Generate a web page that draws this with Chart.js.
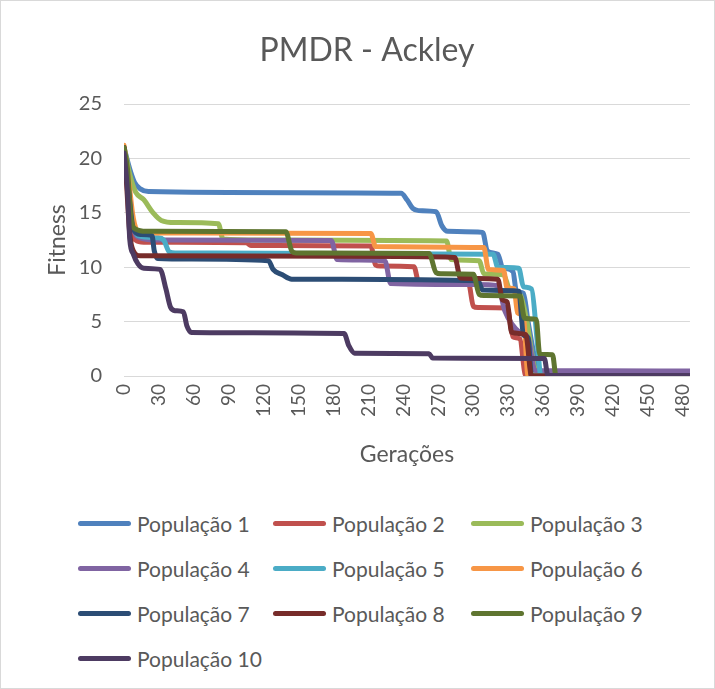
<!DOCTYPE html>
<html>
<head>
<meta charset="utf-8">
<script src="https://cdn.jsdelivr.net/npm/chart.js@4"></script>
<style>
  html, body { margin: 0; padding: 0; background: #fff; }
  #wrap {
    position: relative;
    width: 715px;
    height: 689px;
    box-sizing: border-box;
    border: 1px solid #d9d9d9;
    font-family: Lato, "Open Sans", sans-serif;
  }
  #chart { position: absolute; left: 0; top: 0; }
  .leg-item {
    position: absolute;
    height: 24px;
    display: flex;
    align-items: center;
    color: #595959;
    font-size: 21px;
    white-space: nowrap;
  }
  .leg-line {
    width: 53px;
    height: 5px;
    border-radius: 3px;
    margin-right: 6px;
  }
</style>
</head>
<body>
<div id="wrap">
  <canvas id="chart" width="713" height="470"></canvas>
  <div id="legend"></div>
</div>
<script>
// Chart data: [generation, fitness] at each change
const pop1 = [[0,21],[5,19],[9,17.8],[14,17.2],[21,16.95],[146,16.85],[238,16.8],[243,16.2],[248,15.4],[253,15.2],[268,15.1],[273,13.8],[278,13.3],[308,13.2],[312,11.5],[321,11.2],[325,10],[334,9.6],[337,7.8],[343,7.6],[347,5],[352,2],[356,0],[486,0]];
const pop2 = [[0,21],[3,18],[6,13.5],[10,12.5],[17,12.3],[105,12.25],[109,12.0],[212,11.95],[216,10.2],[220,10.1],[249,10.05],[253,8.6],[257,8.5],[296,8.45],[300,6.4],[304,6.3],[329,6.25],[334,3.6],[340,3.4],[345,0],[486,0]];
const pop3 = [[0,21.1],[5,18.5],[10,16.9],[17,16.2],[25,15],[32,14.3],[44,14.1],[81,14.0],[85,12.6],[117,12.5],[277,12.4],[281,10.7],[305,10.6],[309,9.4],[326,9.3],[331,8],[340,7.5],[346,5],[352,1],[356,0],[486,0]];
const pop4 = [[0,21],[4,17],[8,13.5],[14,12.7],[29,12.5],[178,12.45],[183,10.7],[224,10.6],[229,8.5],[302,8.4],[321,8.3],[327,6],[340,4],[347,3.5],[353,0.5],[486,0.45]];
const pop5 = [[0,21],[4,17],[8,14],[12,12.9],[29,12.7],[34,12.5],[39,11.4],[44,11.3],[317,11.2],[321,10],[339,9.9],[343,8.2],[350,8.0],[355,3],[358,0],[486,0]];
const pop6 = [[0,21.2],[4,18],[8,14.5],[12,13.3],[29,13.15],[212,13.1],[216,11.9],[309,11.8],[313,9.8],[326,9.7],[329,8.1],[335,8.0],[338,5.8],[343,5.5],[347,0],[486,0]];
const pop7 = [[0,21],[4,17],[8,13.5],[14,13.0],[24,12.9],[26,11.5],[29,10.8],[58,10.75],[124,10.6],[128,9.8],[136,9.3],[144,8.9],[304,8.75],[308,7.9],[339,7.8],[343,3.8],[347,3.5],[350,0],[486,0]];
const pop8 = [[0,21],[2,18],[5,13],[8,11.5],[14,11.05],[195,11.0],[284,10.9],[289,9.0],[321,8.9],[325,7.0],[329,6.8],[333,4.0],[345,3.8],[350,0],[486,0]];
const pop9 = [[0,21],[3,19],[6,14.5],[10,13.5],[19,13.3],[139,13.25],[144,11.5],[148,11.3],[262,11.25],[268,9.5],[272,9.4],[300,9.35],[305,7.5],[309,7.4],[340,7.35],[344,5.3],[354,5.2],[357,2.0],[368,1.95],[371,0],[486,0]];
const pop10 = [[0,20.5],[3,17],[5,12.5],[8,11.2],[12,10.3],[17,9.9],[31,9.8],[36,8],[40,6.3],[44,6.0],[51,5.9],[54,4.6],[58,4.0],[189,3.9],[193,2.8],[198,2.1],[262,2.05],[265,1.65],[361,1.6],[364,0.05],[486,0.05]];

const seriesNames = ['População 1','População 2','População 3','População 4','População 5',
                     'População 6','População 7','População 8','População 9','População 10'];
const seriesData = [pop1, pop2, pop3, pop4, pop5, pop6, pop7, pop8, pop9, pop10];
const seriesColors = ['#4F81BD','#C0504D','#9BBB59','#8064A2','#4BACC6',
                      '#F79646','#2C4D75','#772C2A','#5F7530','#4D3B62'];
const xTickLabels = [0,30,60,90,120,150,180,210,240,270,300,330,360,390,420,450,480];
const yTickLabels = [0,5,10,15,20,25];

const textColor = '#595959';
const fontFamily = 'Lato, "Open Sans", sans-serif';

const datasets = seriesData.map((pts, i) => ({
    label: seriesNames[i],
    data: pts.map(p => ({ x: p[0], y: p[1] })),
    borderColor: seriesColors[i],
    backgroundColor: seriesColors[i],
    borderWidth: 5,
    pointRadius: 0,
    cubicInterpolationMode: 'monotone',
    borderJoinStyle: 'round',
    borderCapStyle: 'round',
    order: seriesData.length - i  // later series on top, like Excel
}));

const ctx = document.getElementById('chart').getContext('2d');
const chart = new Chart(ctx, {
    type: 'line',
    data: { datasets },
    options: {
        responsive: false,
        animation: false,
        layout: { padding: { left: 39, right: 20, top: 0, bottom: 0 } },
        plugins: {
            legend: { display: false },
            tooltip: { enabled: false },
            title: {
                display: true,
                text: 'PMDR - Ackley',
                color: textColor,
                font: { family: fontFamily, size: 32, weight: 'normal' },
                padding: { top: 30.8, bottom: 33.8 }
            }
        },
        scales: {
            x: {
                type: 'linear',
                min: 0,
                max: 486,
                afterBuildTicks: scale => { scale.ticks = xTickLabels.map(v => ({ value: v })); },
                afterFit: scale => { scale.height = 95; },
                grid: { display: false, drawTicks: false },
                border: { display: false },
                ticks: {
                    autoSkip: false,
                    minRotation: 90,
                    maxRotation: 90,
                    padding: 8,
                    color: textColor,
                    font: { family: fontFamily, size: 19 }
                },
                title: {
                    display: true,
                    text: 'Gerações',
                    color: textColor,
                    padding: { top: 4, bottom: 3 },
                    font: { family: fontFamily, size: 23 }
                }
            },
            y: {
                min: 0,
                max: 25,
                afterBuildTicks: scale => { scale.ticks = yTickLabels.map(v => ({ value: v })); },
                afterFit: scale => { scale.width = 84; },
                grid: { color: '#d9d9d9', lineWidth: 1, drawTicks: false },
                border: { display: false },
                ticks: {
                    padding: 22,
                    color: textColor,
                    font: { family: fontFamily, size: 20 }
                },
                title: {
                    display: true,
                    text: 'Fitness',
                    color: textColor,
                    padding: { top: 4, bottom: 4 },
                    font: { family: fontFamily, size: 23 }
                }
            }
        }
    }
});

// Legend in three columns, like the Excel one
const legendCols = [77, 272, 470];
const legend = document.getElementById('legend');
chart.data.datasets.forEach((ds, i) => {
    const item = document.createElement('div');
    item.className = 'leg-item';
    item.style.left = legendCols[i % 3] + 'px';
    item.style.top = (510 + Math.floor(i / 3) * 45) + 'px';
    item.innerHTML = `<span class="leg-line" style="background:${ds.borderColor}"></span><span>${ds.label}</span>`;
    legend.appendChild(item);
});
</script>
</body>
</html>
